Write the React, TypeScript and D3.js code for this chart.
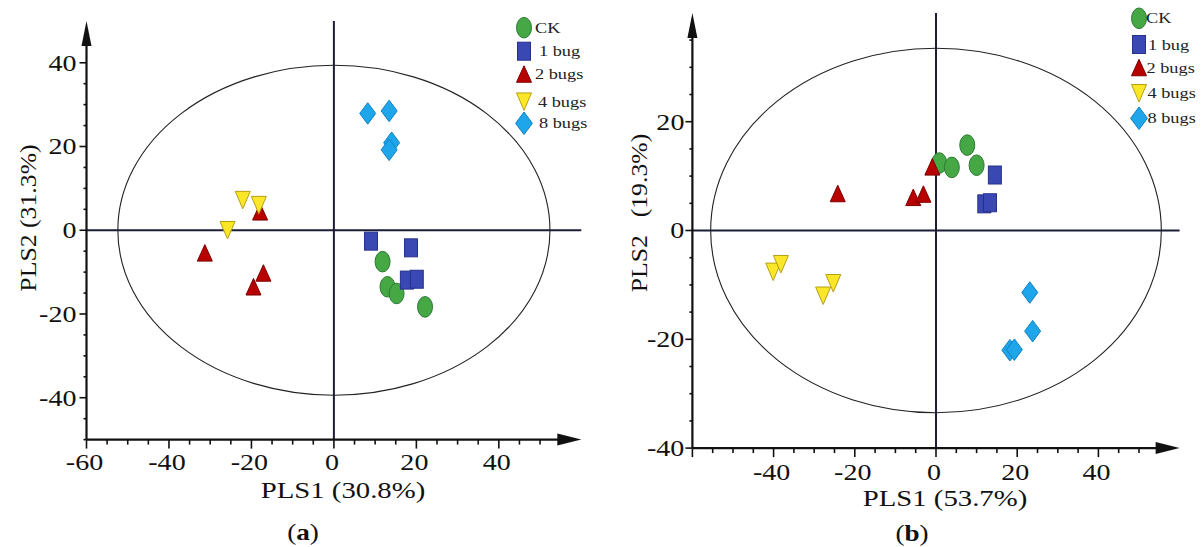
import React from "react";
import * as d3 from "d3";

// ---------- data ----------
const groups = ["CK", "1 bug", "2 bugs", "4 bugs", "8 bugs"];

// panel (a)
const aCK = [[11.8, -7.5], [13.0, -13.5], [15.2, -15.1], [22.1, -18.3]];
const a1bug = [[9.0, -2.6], [18.7, -4.2], [17.7, -11.9], [20.1, -11.7]];
const a2bugs = [[-17.9, 4.4], [-31.3, -5.4], [-17.1, -10.2], [-19.5, -13.5]];
const a4bugs = [[-22.1, 7.2], [-18.2, 6.0], [-25.8, 0.0]];
const a8bugs = [[8.2, 27.9], [13.4, 28.5], [14.0, 20.9], [13.4, 19.2]];

// panel (b)
const bCK = [[0.8, 12.4], [3.9, 11.6], [7.7, 15.7], [10.0, 12.0]];
const b1bug = [[14.5, 10.2], [11.9, 4.9], [13.3, 5.1]];
const b2bugs = [[-24.2, 6.8], [-5.6, 6.1], [-3.1, 6.7], [-0.9, 11.7]];
const b4bugs = [[-40.1, -7.6], [-38.2, -6.2], [-27.8, -12.0], [-25.3, -9.7]];
const b8bugs = [[23.1, -11.4], [23.8, -18.5], [18.2, -22.0], [19.3, -21.9]];

const aXTickLabels = [-60, -40, -20, 0, 20, 40];
const aYTickLabels = [-40, -20, 0, 20, 40];
const bXTickLabels = [-40, -20, 0, 20, 40];
const bYTickLabels = [-40, -20, 0, 20];

// ellipse radii (in data units)
const aEllipse = [52.4, 39.4];
const bEllipse = [55.5, 33.5];

// ---------- style ----------
const FONT = '"Liberation Serif","Times New Roman",serif';
const STYLES = [
  { shape: "circle", fill: "#45a845", stroke: "#2d7a34" },
  { shape: "square", fill: "#3a48b4", stroke: "#27318a" },
  { shape: "up", fill: "#b80000", stroke: "#7d0000" },
  { shape: "down", fill: "#fbe627", stroke: "#b59f12" },
  { shape: "diamond", fill: "#1ea5ea", stroke: "#0f82c4" },
];

function Marker({ shape, fill, stroke, x, y, s = 1 }) {
  const common = { fill, stroke, strokeWidth: 1 };
  if (shape === "circle")
    return <ellipse cx={x} cy={y} rx={7.5 * s} ry={10.3 * s} {...common} />;
  if (shape === "square")
    return <rect x={x - 6.5 * s} y={y - 9 * s} width={13 * s} height={18 * s} {...common} />;
  let d = "";
  if (shape === "up") {
    const w = 15 * s, h = 16.5 * s;
    d = `M${x},${y - h / 2}L${x + w / 2},${y + h / 2}L${x - w / 2},${y + h / 2}Z`;
  } else if (shape === "down") {
    const w = 15 * s, h = 17.5 * s;
    d = `M${x - w / 2},${y - h / 2}L${x + w / 2},${y - h / 2}L${x},${y + h / 2}Z`;
  } else {
    const w = 16 * s, h = 21.5 * s;
    d = `M${x},${y - h / 2}L${x + w / 2},${y}L${x},${y + h / 2}L${x - w / 2},${y}Z`;
  }
  return <path d={d} {...common} />;
}

function Panel({ cfg }) {
  const x = d3.scaleLinear().domain(cfg.xDomain).range(cfg.xRange);
  const y = d3.scaleLinear().domain(cfg.yDomain).range(cfg.yRange);
  const [x0, x1] = cfg.xDomain;
  const [y0, y1] = cfg.yDomain;
  const axX = x(x0);
  const axY = y(y0);
  const xTicks = d3.range(x0, cfg.xTickMax + 0.1, 5);
  const yTicks = d3.range(y0, cfg.yTickMax + 0.1, 5);
  const tipY = y(y1);
  const tipX = x(x1);
  const line = "#1d1d38";
  return (
    <g>
      {/* ellipse */}
      <ellipse
        cx={x(0)}
        cy={y(0)}
        rx={x(cfg.ellipse[0]) - x(0)}
        ry={y(0) - y(cfg.ellipse[1])}
        fill="none"
        stroke="#222"
        strokeWidth={1.1}
      />
      {/* cross lines */}
      <line x1={axX} x2={tipX} y1={y(0)} y2={y(0)} stroke={line} strokeWidth={2} />
      <line x1={x(0)} x2={x(0)} y1={tipY} y2={axY} stroke={line} strokeWidth={2} />
      {/* axes */}
      <line x1={axX} x2={tipX - 10} y1={axY} y2={axY} stroke="#111" strokeWidth={2.2} />
      <line x1={axX} x2={axX} y1={axY} y2={tipY + 10} stroke="#111" strokeWidth={2.2} />
      <path d={`M${tipX},${axY}L${tipX - 24},${axY - 6}L${tipX - 24},${axY + 6}Z`} fill="#111" />
      <path d={`M${axX},${tipY}L${axX - 5},${tipY + 25}L${axX + 5},${tipY + 25}Z`} fill="#111" />
      {xTicks.map((t) => (
        <line key={"xt" + t} x1={x(t)} x2={x(t)} y1={axY} y2={axY + (t % 20 === 0 ? 9 : 5)} stroke="#111" strokeWidth={1.6} />
      ))}
      {yTicks.map((t) => (
        <line key={"yt" + t} x1={axX} x2={axX - (t % 20 === 0 ? 7 : 3)} y1={y(t)} y2={y(t)} stroke="#111" strokeWidth={1.6} />
      ))}
      {cfg.xLabels.map((t) => (
        <text
          key={"xl" + t}
          transform={`translate(${x(t) - 2},${axY + cfg.xLabelDy}) scale(1.22,1)`}
          textAnchor="middle"
          fontFamily={FONT}
          fontSize={23}
          fill="#111"
        >
          {t}
        </text>
      ))}
      {cfg.yLabels.map((t) => (
        <text
          key={"yl" + t}
          transform={`translate(${axX - cfg.yLabelGap},${y(t) + 7.8}) scale(1.22,1)`}
          textAnchor="end"
          fontFamily={FONT}
          fontSize={23}
          fill="#111"
        >
          {t}
        </text>
      ))}
      {/* axis titles */}
      <text
        transform={`translate(${cfg.xTitle[0]},${cfg.xTitle[1]}) scale(1.25,1)`}
        textAnchor="middle"
        fontFamily={FONT}
        fontSize={23}
        fill="#111"
      >
        {cfg.xTitleText}
      </text>
      <text
        transform={`translate(${cfg.yTitle[0]},${cfg.yTitle[1]}) rotate(-90) scale(${cfg.yTitleScale},1)`}
        textAnchor="middle"
        fontFamily={FONT}
        fontSize={23}
        fill="#111"
      >
        {cfg.yTitleText[0]}
        <tspan dx={cfg.yTitleGap}>{cfg.yTitleText[1]}</tspan>
      </text>
      {/* points */}
      {cfg.series.map((pts, gi) =>
        pts.map((p, i) => (
          <Marker key={gi + "-" + i} {...STYLES[gi]} x={x(p[0])} y={y(p[1])} />
        ))
      )}
      {/* legend */}
      {groups.map((g, gi) => (
        <g key={"lg" + g}>
          <Marker {...STYLES[gi]} x={cfg.legendX} y={cfg.legendY[gi]} s={gi === 4 ? 1.05 : 1} />
          <text
            transform={`translate(${cfg.legendTextX[gi]},${cfg.legendY[gi] + 5}) scale(1.22,1)`}
            fontFamily={FONT}
            fontSize={15}
            fill="#222"
          >
            {g}
          </text>
        </g>
      ))}
      {/* caption */}
      <text
        transform={`translate(${cfg.caption[0]},${cfg.caption[1]}) scale(1.18,1)`}
        textAnchor="middle"
        fontFamily={FONT}
        fontSize={23}
        fill="#111"
      >
        (<tspan fontWeight="bold">{cfg.captionLetter}</tspan>)
      </text>
    </g>
  );
}

const panelA = {
  xDomain: [-60, 60],
  xRange: [86.5, 581.3],
  yDomain: [-50, 50],
  yRange: [439.6, 20.9],
  xTickMax: 50,
  yTickMax: 45,
  ellipse: aEllipse,
  xLabels: aXTickLabels,
  yLabels: aYTickLabels,
  xLabelDy: 30,
  yLabelGap: 10,
  xTitle: [343, 498],
  xTitleText: "PLS1 (30.8%)",
  yTitle: [36, 218],
  yTitleText: ["PLS2 ", "(31.3%)"],
  yTitleGap: 0,
  yTitleScale: 1.12,
  series: [aCK, a1bug, a2bugs, a4bugs, a8bugs],
  legendX: 524,
  legendY: [27.7, 51.2, 74, 101.7, 123.3],
  legendTextX: [535, 539, 535, 538, 539],
  caption: [303, 540],
  captionLetter: "a",
};

const panelB = {
  xDomain: [-60, 60],
  xRange: [692.4, 1179.6],
  yDomain: [-40, 40],
  yRange: [448.1, 12.9],
  xTickMax: 50,
  yTickMax: 35,
  ellipse: bEllipse,
  xLabels: bXTickLabels,
  yLabels: bYTickLabels,
  xLabelDy: 32,
  yLabelGap: 8,
  xTitle: [945, 506],
  xTitleText: "PLS1 (53.7%)",
  yTitle: [647, 213],
  yTitleText: ["PLS2 ", "(19.3%)"],
  yTitleGap: 10,
  yTitleScale: 1.12,
  series: [bCK, b1bug, b2bugs, b4bugs, b8bugs],
  legendX: 1139,
  legendY: [18.3, 44.5, 67.5, 93.3, 118.3],
  legendTextX: [1146, 1148, 1146.5, 1147.5, 1147.5],
  caption: [912, 541],
  captionLetter: "b",
};

export default function App() {
  return (
    <svg
      width={1201}
      height={547}
      viewBox="0 0 1201 547"
      style={{ position: "absolute", left: 0, top: 0, background: "#fff" }}
    >
      <rect width={1201} height={547} fill="#fff" />
      <Panel cfg={panelA} />
      <Panel cfg={panelB} />
    </svg>
  );
}
